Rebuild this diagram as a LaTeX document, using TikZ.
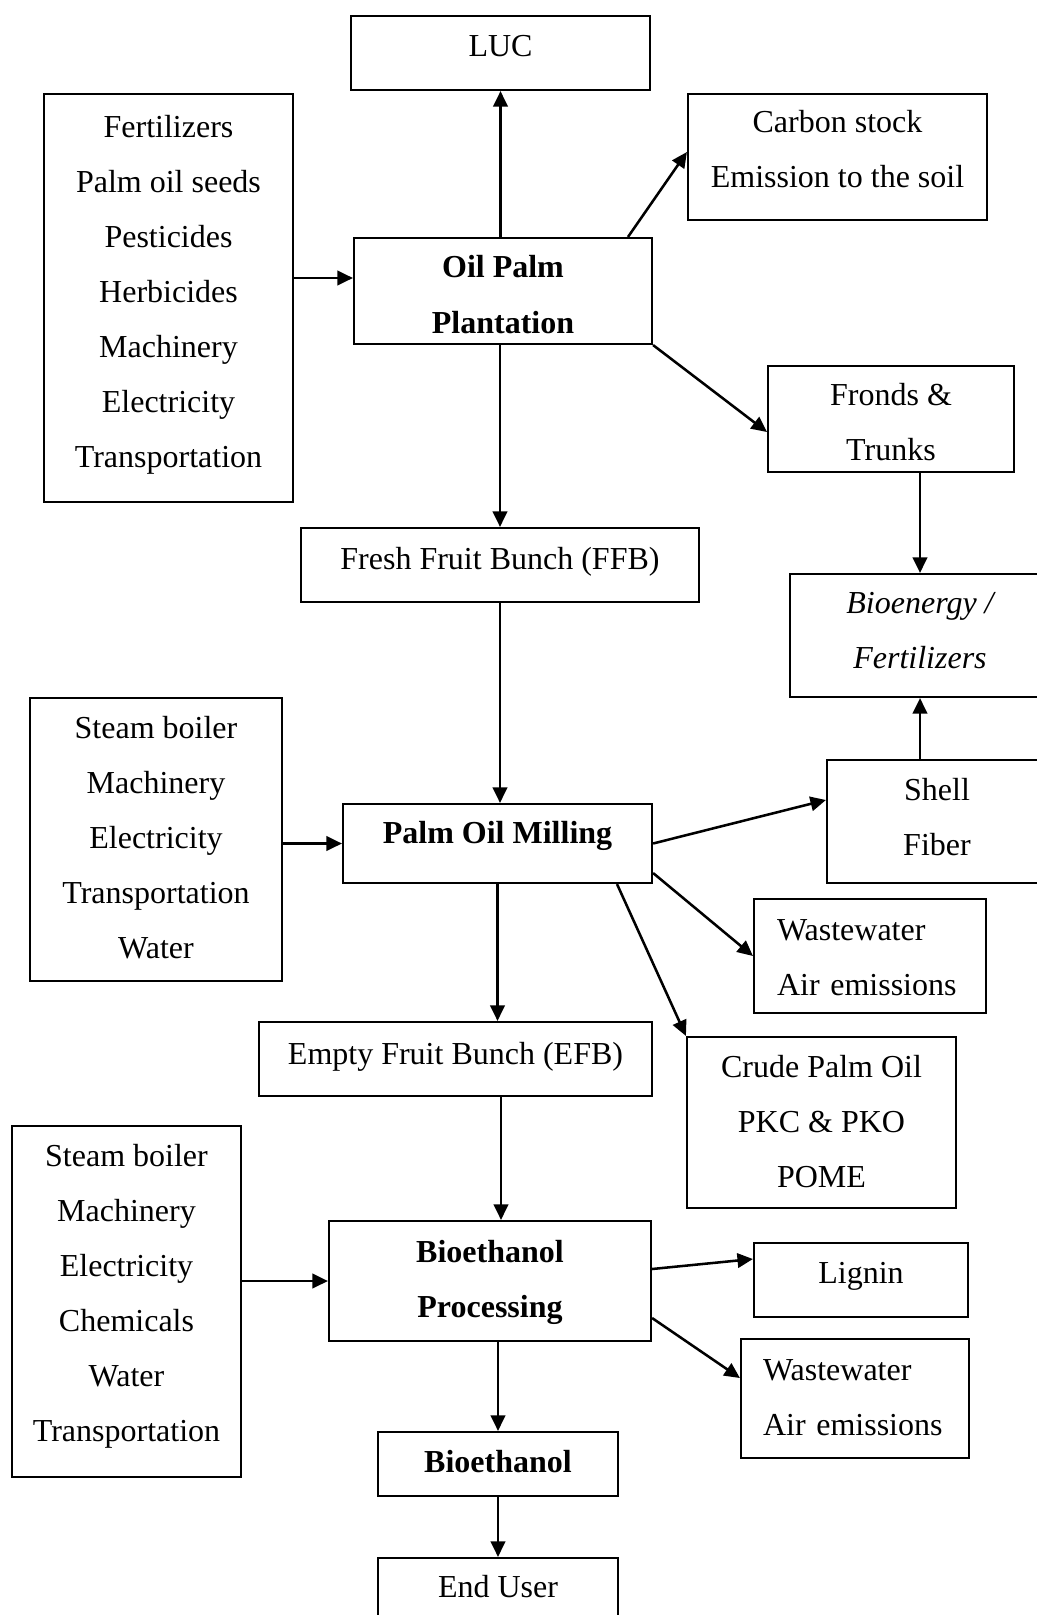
\documentclass[tikz,border=0pt]{standalone}
\usepackage{fontspec}
\setmainfont{Liberation Serif}
\usetikzlibrary{arrows.meta}
\newcommand\pxu{0.375pt}
\begin{document}
\begin{tikzpicture}[x=0.375pt,y=-0.375pt,
  box/.style={draw,line width=0.8pt,inner sep=0pt,align=center,font=\fontsize{12}{20.625}\selectfont},
  boldbox/.style={box,font=\fontsize{12}{20.625}\selectfont\bfseries},
  itbox/.style={box,font=\fontsize{12}{20.625}\selectfont\itshape},
  leftbox/.style={box,align=left},
  arr/.style={line width=0.95pt,-{Triangle[length=5.8pt,width=5.4pt]}}]
\fill[white] (0,0) rectangle (1037,1615);
\useasboundingbox (0,0) rectangle (1037,1615);

\node[box,minimum width=299*\pxu,minimum height=74*\pxu,text height=2.625pt,text depth=0pt] (luc) at (500.5,53) {LUC};
\node[box,minimum width=249*\pxu,minimum height=408*\pxu,text height=129.75pt,text depth=3pt] (in1) at (168.5,298)
  {Fertilizers\\Palm oil seeds\\Pesticides\\Herbicides\\Machinery\\Electricity\\Transportation};
\node[boldbox,minimum width=298*\pxu,minimum height=106*\pxu,text height=34.5pt,text depth=3pt] (opp) at (503,291) {Oil Palm\\Plantation};
\node[box,minimum width=299*\pxu,minimum height=126*\pxu,text height=26.25pt,text depth=3pt] (carbon) at (837.5,157) {Carbon stock\\Emission to the soil};
\node[box,minimum width=246*\pxu,minimum height=106*\pxu,text height=33.75pt,text depth=3pt] (fronds) at (891,419) {Fronds \&\\Trunks};
\node[box,minimum width=398*\pxu,minimum height=74*\pxu,text height=3pt,text depth=0pt] (ffb) at (500,565) {Fresh Fruit Bunch (FFB)};
\node[itbox,minimum width=260*\pxu,minimum height=123*\pxu,text height=27.375pt,text depth=3pt] (bio) at (920,635.5) {Bioenergy /\\Fertilizers};
\node[box,minimum width=220*\pxu,minimum height=123*\pxu,text height=28.125pt,text depth=3pt] (shell) at (937,821.5) {Shell\\Fiber};
\node[box,minimum width=252*\pxu,minimum height=283*\pxu,text height=91.875pt,text depth=3pt] (in2) at (156,839.5)
  {Steam boiler\\Machinery\\Electricity\\Transportation\\Water};
\node[boldbox,minimum width=309*\pxu,minimum height=79*\pxu,text height=0pt,text depth=0pt] (mill) at (497.5,843.5) {Palm Oil Milling};
\node[leftbox,minimum width=232*\pxu,minimum height=114*\pxu,text width=69.75pt,text height=11.625pt,text depth=23.625pt] (ww1) at (870,956) {Wastewater\\Air emissions};
\node[box,minimum width=393*\pxu,minimum height=74*\pxu,text height=4.125pt,text depth=0pt] (efb) at (455.5,1059) {Empty Fruit Bunch (EFB)};
\node[box,minimum width=269*\pxu,minimum height=171*\pxu,text height=51.375pt,text depth=3pt] (cpo) at (821.5,1122.5) {Crude Palm Oil\\PKC \& PKO\\POME};
\node[box,minimum width=229*\pxu,minimum height=351*\pxu,text height=107.625pt,text depth=3pt] (in3) at (126.5,1301.5)
  {Steam boiler\\Machinery\\Electricity\\Chemicals\\Water\\Transportation};
\node[boldbox,minimum width=322*\pxu,minimum height=120*\pxu,text height=30pt,text depth=3pt] (proc) at (490,1281) {Bioethanol\\Processing};
\node[box,minimum width=214*\pxu,minimum height=74*\pxu,text height=2.25pt,text depth=0pt] (lignin) at (861,1280) {Lignin};
\node[leftbox,minimum width=228*\pxu,minimum height=119*\pxu,text width=69pt,text height=9.75pt,text depth=23.625pt] (ww2) at (855,1398.5) {Wastewater\\Air emissions};
\node[boldbox,minimum width=240*\pxu,minimum height=64*\pxu,text height=6.375pt,text depth=0pt] (bioeth) at (498,1464) {Bioethanol};
\node[box,minimum width=240*\pxu,minimum height=62*\pxu,text height=6pt,text depth=0pt] (enduser) at (498,1589) {End User};

\draw[arr] (luc.south |- opp.north) -- (luc.south);
\draw[arr] ([yshift=20*\pxu]in1.east) -- ([yshift=13*\pxu]opp.west);
\draw[arr] ([xshift=125*\pxu]opp.north) -- ([yshift=5*\pxu]carbon.west);
\draw[arr] (opp.south east) -- ([yshift=-13*\pxu]fronds.west);
\draw[arr] (ffb.north |- opp.south) -- (ffb.north);
\draw[arr] (bio.north |- fronds.south) -- (bio.north);
\draw[arr] (bio.south |- shell.north) -- (bio.south);
\draw[arr] (ffb.south) -- (ffb.south |- mill.north);
\draw[arr] (mill.west -| in2.east) -- (mill.west);
\draw[arr] (mill.east) -- ([yshift=21.5*\pxu]shell.west);
\draw[arr] ([yshift=-29.5*\pxu]mill.east) -- (ww1.west);
\draw[arr] ([xshift=119.5*\pxu]mill.south) -- (cpo.north west);
\draw[arr] (mill.south) -- (mill.south |- efb.north);
\draw[arr] ([xshift=45.5*\pxu]efb.south) -- ([xshift=11*\pxu]proc.north);
\draw[arr] (proc.west -| in3.east) -- (proc.west);
\draw[arr] ([yshift=12*\pxu]proc.east) -- ([yshift=21*\pxu]lignin.west);
\draw[arr] ([yshift=-37*\pxu]proc.east) -- ([yshift=20.5*\pxu]ww2.west);
\draw[arr] (bioeth.north |- proc.south) -- (bioeth.north);
\draw[arr] (bioeth.south) -- (enduser.north);
\end{tikzpicture}
\end{document}
